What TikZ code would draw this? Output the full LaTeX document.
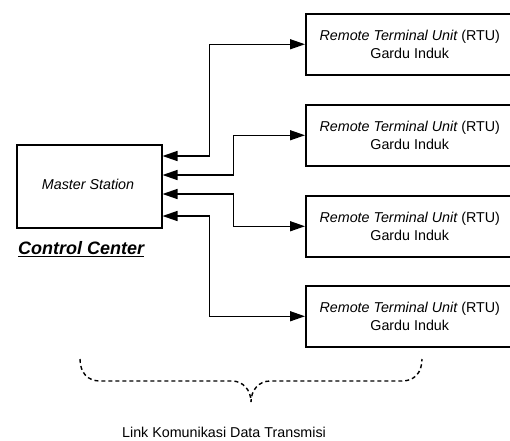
\documentclass[tikz,border=0pt]{standalone}
\usepackage{fontspec}
\setmainfont{Liberation Sans}
\usetikzlibrary{arrows.meta}
\tikzset{
  box/.style={draw, line width=1.5pt, rectangle, inner sep=0pt, anchor=north west},
  rtubox/.style={box, minimum width=208pt, minimum height=61pt, align=center, font=\fontsize{14.3}{18}\selectfont},
  conn/.style={line width=1.4pt, {Triangle[length=15pt,width=10pt]}-{Triangle[length=15pt,width=10pt]}},
  bracestyle/.style={line width=1.4pt, dash pattern=on 4pt off 3pt},
  lbl/.style={inner sep=0pt, font=\fontsize{14.3}{17}\selectfont}
}
\begin{document}
\begin{tikzpicture}[x=1pt,y=-1pt]
\useasboundingbox (0,0) rectangle (510,440);
\begin{scope}
\clip (0,0) rectangle (510,440);
\node[box, minimum width=145pt, minimum height=83pt] (m) at (16,144) {};
\node[lbl] (mt) at (88,184) {\itshape Master Station};
\node[rtubox] (r1) at (305,13) {\itshape Remote Terminal Unit\upshape{} (RTU)\\Gardu Induk};
\node[rtubox] (r2) at (305,104) {\itshape Remote Terminal Unit\upshape{} (RTU)\\Gardu Induk};
\node[rtubox] (r3) at (305,195) {\itshape Remote Terminal Unit\upshape{} (RTU)\\Gardu Induk};
\node[rtubox] (r4) at (305,285) {\itshape Remote Terminal Unit\upshape{} (RTU)\\Gardu Induk};
\end{scope}
\node[inner sep=0pt, anchor=west, font=\fontsize{18}{20}\selectfont\bfseries\itshape] (cc) at (18,249) {\underline{Control Center}};
\draw[conn] ([yshift=-12pt]m.north east) -- ++(47,0) |- (r1.west);
\draw[conn] ([yshift=-31pt]m.north east) -- ++(71,0) |- (r2.west);
\draw[conn] ([yshift=-50pt]m.north east) -- ++(71,0) |- (r3.west);
\draw[conn] ([yshift=-72pt]m.north east) -- ++(47,0) |- (r4.west);
\coordinate (bl) at (80,359);
\coordinate (br) at (422,359);
\coordinate (bt) at (251,402);
\draw[bracestyle] (bl) .. controls (80,373) and (88,381) .. (100,381) -- (232,381)
  .. controls (243,381) and (251,390) .. (bt)
  .. controls (251,390) and (259,381) .. (270,381) -- (402,381)
  .. controls (414,381) and (422,373) .. (br);
\node[lbl] (link) at (224,432) {Link Komunikasi Data Transmisi};
\end{tikzpicture}
\end{document}
